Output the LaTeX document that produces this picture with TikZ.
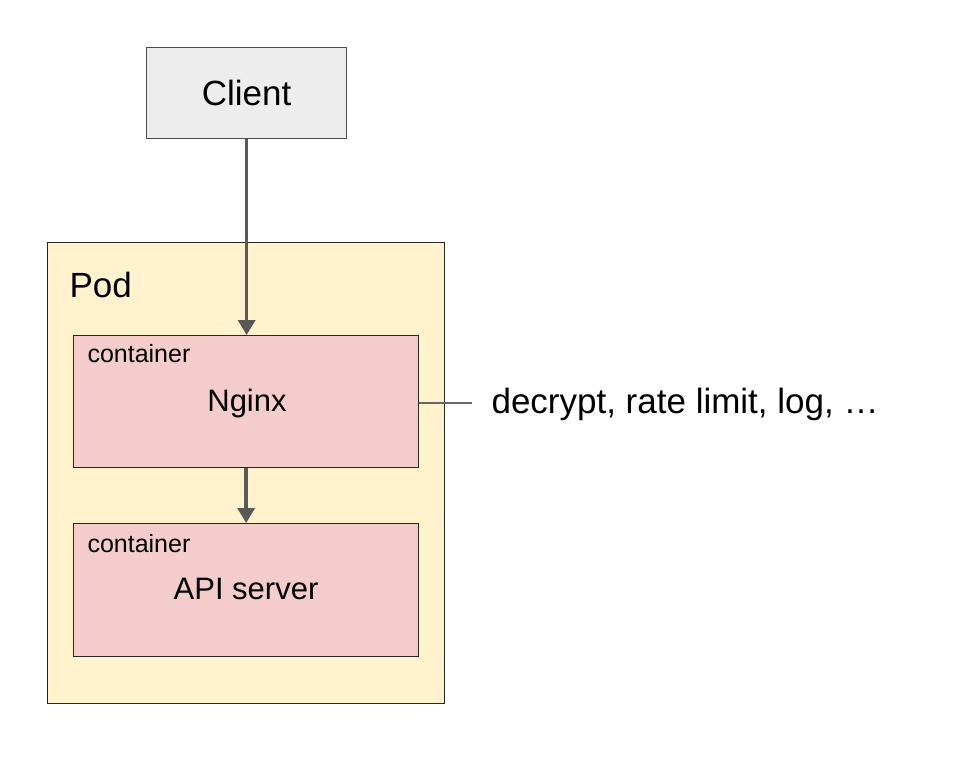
\documentclass[tikz,border=0pt]{standalone}
\usepackage{fontspec}
\setmainfont{Liberation Sans}
\usetikzlibrary{arrows.meta}
\begin{document}
\begin{tikzpicture}[x=1pt,y=-1pt,
  box/.style={draw=black!85,line width=1.3pt,anchor=north west,inner sep=0pt},
  arr/.style={draw=black!65,line width=3.5pt,-{Triangle[length=15pt,width=17pt]}},
  big/.style={font=\fontsize{35}{40}\selectfont},
  mid/.style={font=\fontsize{31}{36}\selectfont},
  small/.style={font=\fontsize{25}{28}\selectfont}]
\useasboundingbox (0,0) rectangle (960,772);
\node[box,draw=black!70,fill=black!7,minimum width=200pt,minimum height=91pt] (client) at (146,47) {};
\node[big] at (client.center) {Client};
\node[box,fill={rgb,255:red,255;green,242;blue,204},minimum width=397pt,minimum height=461pt] (pod) at (47,242) {};
\node[big,anchor=base west] (podl) at (66,297) {Pod};
\node[box,fill={rgb,255:red,244;green,204;blue,204},minimum width=345pt,minimum height=132pt] (ngx) at (73,335) {};
\node[small,anchor=base west] (c1) at (84,362) {container};
\node[mid] (nl) at (247,403) {Nginx};
\node[box,fill={rgb,255:red,244;green,204;blue,204},minimum width=345pt,minimum height=133pt] (api) at (73,523) {};
\node[small,anchor=base west] (c2) at (84,552) {container};
\node[mid] (al) at (246,589) {API server};
\node[big,anchor=west] (dec) at (488,404) {decrypt, rate limit, log, …};
\coordinate (le) at (472,403);
\draw[arr] (client.south) -- (client.south |- ngx.north);
\draw[arr] (ngx.south) -- (api.north);
\draw[black!60,line width=1.2pt] (ngx.east |- le) -- (le);
\end{tikzpicture}
\end{document}
